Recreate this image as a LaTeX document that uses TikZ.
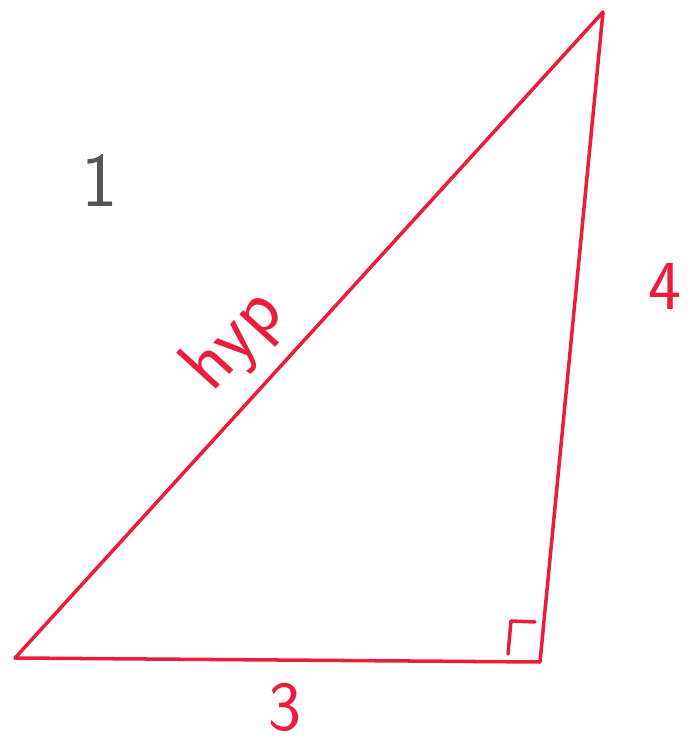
\documentclass[tikz,border=0pt]{standalone}
\usepackage[dvipsnames,svgnames,x11names]{xcolor}
\usepackage{tikz}
\usetikzlibrary{positioning}
\definecolor{penred}{HTML}{EC1C3C}
\definecolor{pengray}{HTML}{555555}
\tikzset{
  side/.style={penred,line width=2pt,line cap=round,line join=round},
  sidelabel/.style={penred,font=\sffamily\fontsize{40}{40}\selectfont},
}

\begin{document}
\begin{tikzpicture}
  \useasboundingbox (0,0) rectangle (13.88,14.92);
  \coordinate (A) at (0.30,1.76);
  \coordinate (B) at (10.80,1.68);
  \coordinate (C) at (12.06,14.68);
  \draw[side] (A) -- (B) -- (C) -- cycle;
  % right angle mark
  \coordinate (r1) at (10.16,1.84);
  \coordinate (r2) at (10.22,2.50);
  \coordinate (r3) at (10.70,2.48);
  \draw[side] (r1) -- (r2) -- (r3);
  \node[sidelabel,font=\sffamily\fontsize{44}{44}\selectfont] (lhyp) at (4.70,8.10) [rotate=47.7] {hyp};
  \node[sidelabel] (lfour) at (13.30,9.20) {4};
  \node[sidelabel] (lthree) at (5.70,0.78) {3};
  \node[pengray,font=\sffamily\fontsize{44}{44}\selectfont] (num) at (2.00,11.30) {1};
\end{tikzpicture}
\end{document}
